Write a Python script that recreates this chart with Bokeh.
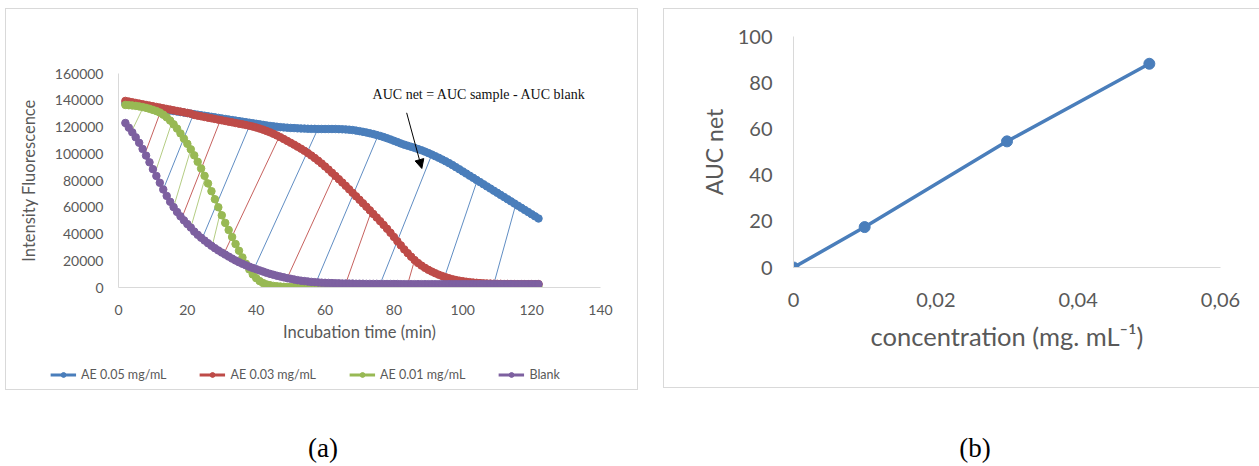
import numpy as np
from bokeh.plotting import figure
from bokeh.models import (Legend, LegendItem, Label, Arrow, NormalHead, Div,
                          Range1d, FixedTicker, CustomJSTickFormatter, NumeralTickFormatter)
from bokeh.embed import file_html
from bokeh.resources import INLINE

# ---------------- data: panel (a) ----------------
time_min = list(range(2, 123))  # reading every minute, 2..122 min

ae_005 = [137500, 137200, 136800, 136400, 136000, 135600, 135200, 134800, 134400, 134000,
          133600, 133200, 132800, 132400, 132000, 131600, 131200, 130800, 130400, 130000,
          129600, 129200, 128800, 128400, 128000, 127600, 127200, 126800, 126400, 126000,
          125600, 125200, 124800, 124400, 124000, 123600, 123200, 122800, 122400, 122000,
          121600, 121200, 120800, 120500, 120200, 119900, 119700, 119500, 119300, 119200,
          119000, 118900, 118800, 118700, 118600, 118600, 118500, 118500, 118500, 118500,
          118500, 118500, 118400, 118300, 118200, 118000, 117700, 117300, 116900, 116400,
          115900, 115300, 114700, 114000, 113300, 112500, 111600, 110700, 109700, 108700,
          107700, 106800, 106000, 105200, 104400, 103500, 102600, 101600, 100500, 99400,
          98200, 97000, 95700, 94400, 93000, 91500, 90000, 88400, 86800, 85200,
          83600, 82000, 80400, 78800, 77200, 75600, 74000, 72400, 70800, 69200,
          67600, 66000, 64400, 62800, 61200, 59600, 58000, 56400, 54800, 53200,
          51600]

ae_003 = [139500, 139000, 138500, 138000, 137500, 137000, 136500, 136000, 135500, 135000,
          134500, 134000, 133500, 133000, 132500, 132000, 131500, 131000, 130500, 130000,
          129000, 128500, 128000, 127500, 127000, 126500, 126000, 125500, 125000, 124500,
          124000, 123500, 123000, 122500, 122000, 121500, 120900, 120300, 119600, 118800,
          118000, 117000, 116000, 114900, 113700, 112400, 111000, 109600, 108200, 106800,
          105300, 103800, 102200, 100500, 98700, 96800, 94800, 92700, 90500, 88200,
          85800, 83400, 81000, 78500, 76000, 73400, 70800, 68200, 65600, 63000,
          60400, 57700, 55000, 52300, 49600, 46800, 43900, 40900, 37800, 34600,
          31500, 28500, 25700, 23000, 20500, 18300, 16400, 14700, 13200, 11900,
          10700, 9600, 8600, 7700, 6900, 6200, 5600, 5100, 4700, 4300,
          4000, 3700, 3500, 3300, 3100, 3000, 2900, 2800, 2700, 2700,
          2600, 2600, 2600, 2500, 2500, 2500, 2500, 2500, 2500, 2500,
          2500]

ae_001 = [136500, 136300, 136100, 135800, 135400, 134900, 134300, 133600, 132800, 131900,
          130800, 129200, 127200, 124800, 122000, 118800, 115200, 111300, 107400, 103300,
          98800, 94000, 89000, 83500, 77800, 72000, 66000, 60000, 54000, 48300,
          43000, 37800, 32500, 27500, 22500, 17800, 13500, 9800, 7000, 4800,
          3300, 2300, 1700, 1200, 900, 700, 500, 400, 300, 300,
          300, 200, 200, 200, 200, 200, 200, 200, 200, 200,
          200, 200, 200, 200, 200, 200, 200, 200, 200, 200,
          200, 200, 200, 200, 200, 200, 200, 200, 200, 200,
          200, 200, 200, 200, 200, 200, 200, 200, 200, 200,
          200, 200, 200, 200, 200, 200, 200, 200, 200, 200,
          200, 200, 200, 200, 200, 200, 200, 200, 200, 200,
          200, 200, 200, 200, 200, 200, 200, 200, 200, 200,
          200]

blank = [123000, 119500, 116000, 112300, 108200, 103600, 98600, 93600, 88500, 83400,
         78300, 73300, 68500, 64100, 60100, 56500, 53200, 50200, 47400, 44800,
         41800, 39400, 37200, 35100, 33100, 31200, 29400, 27700, 26100, 24600,
         23100, 21600, 20200, 18900, 17700, 16600, 15600, 14600, 13700, 12800,
         11900, 11000, 10200, 9500, 8800, 8200, 7600, 7000, 6500, 6000,
         5500, 5100, 4800, 4500, 4200, 4000, 3800, 3600, 3500, 3400,
         3300, 3200, 3100, 3000, 3000, 2900, 2900, 2800, 2800, 2800,
         2700, 2700, 2700, 2700, 2600, 2600, 2600, 2600, 2600, 2600,
         2500, 2500, 2500, 2500, 2500, 2500, 2500, 2500, 2500, 2500,
         2500, 2500, 2500, 2500, 2500, 2500, 2500, 2500, 2500, 2500,
         2500, 2500, 2500, 2500, 2500, 2500, 2500, 2500, 2500, 2500,
         2500, 2500, 2500, 2500, 2500, 2500, 2500, 2500, 2500, 2500,
         2500]

series_names = ["AE 0.05 mg/mL", "AE 0.03 mg/mL", "AE 0.01 mg/mL", "Blank"]
series_colors = ["#4A7EBB", "#BE4B48", "#98B954", "#7D60A0"]

# hatch lines (start time on blank curve -> end time on sample curve), min
hatch_005_from = [13, 24.3, 39.4, 57.4, 76, 94, 109]
hatch_005_to = [21.8, 38.4, 57.9, 75.4, 91, 104.2, 115.4]
hatch_003_from = [7.7, 18.4, 30.6, 49, 66, 84]
hatch_003_to = [12.6, 29.6, 46.7, 62.7, 73.4, 86]
hatch_001_from = [3.8, 10.6, 16, 21, 27.2]
hatch_001_to = [7.2, 15.5, 21, 25.2, 29.6]

x_ticks_a = [0, 20, 40, 60, 80, 100, 120, 140]
y_ticks_a = [0, 20000, 40000, 60000, 80000, 100000, 120000, 140000, 160000]

annot_text = "AUC net = AUC sample - AUC blank"
annot_pos = (73.8, 144000)
arrow_from = (83.7, 130600)
arrow_to = (88.1, 89000)

# ---------------- data: panel (b) ----------------
concentration = [0, 0.01, 0.03, 0.05]
auc_net = [0, 17.5, 54.6, 88.2]
x_ticks_b = [0, 0.02, 0.04, 0.06]
y_ticks_b = [0, 20, 40, 60, 80, 100]

FONT = "Lato"
GRAY = "#595959"
AXIS = "#d9d9d9"
BORDER = "#d9d9d9"


def style_axes(p, tick_size, title_size):
    for ax in (p.xaxis[0], p.yaxis[0]):
        ax.axis_line_color = AXIS
        ax.axis_line_width = 1
        ax.major_tick_line_color = None
        ax.minor_tick_line_color = None
        ax.major_label_text_font = FONT
        ax.major_label_text_font_size = tick_size
        ax.major_label_text_color = GRAY
        ax.axis_label_text_font = FONT
        ax.axis_label_text_font_size = title_size
        ax.axis_label_text_font_style = "normal"
        ax.axis_label_text_color = GRAY
    p.xgrid.visible = False
    p.ygrid.visible = False
    p.outline_line_color = None


def box_style(left, top, border=True):
    s = {"position": "absolute", "left": f"{left}px", "top": f"{top}px",
         "box-sizing": "content-box"}
    if border:
        s["border"] = f"1px solid {BORDER}"
    return s


# ---------------- panel (a) ----------------
pa = figure(width=631, height=380, x_range=Range1d(0, 140), y_range=Range1d(0, 160000),
            output_backend="svg", toolbar_location=None,
            min_border_left=112, min_border_right=39, min_border_top=64, min_border_bottom=104,
            styles=box_style(5, 8))
style_axes(pa, "14px", "16.5px")
pa.xaxis.ticker = FixedTicker(ticks=x_ticks_a)
pa.yaxis.ticker = FixedTicker(ticks=y_ticks_a)
pa.yaxis.formatter = NumeralTickFormatter(format="0")
pa.xaxis.axis_label = "Incubation time (min)"
pa.yaxis.axis_label = "Intensity Fluorescence"
pa.xaxis.major_label_standoff = 11
pa.yaxis.major_label_standoff = 9
pa.xaxis.axis_label_standoff = 4
pa.yaxis.axis_label_standoff = 13

t_arr = np.array(time_min, dtype=float)
blank_arr = np.array(blank, dtype=float)


def add_hatch(p, t_from, t_to, sample, color, alpha):
    x0 = np.array(t_from, dtype=float)
    x1 = np.array(t_to, dtype=float)
    y0 = np.interp(x0, t_arr, blank_arr)
    y1 = np.interp(x1, t_arr, np.array(sample, dtype=float))
    p.segment(x0=x0, y0=y0, x1=x1, y1=y1, line_color=color, line_width=1, line_alpha=alpha)


add_hatch(pa, hatch_001_from, hatch_001_to, ae_001, "#9BBB59", 0.75)
add_hatch(pa, hatch_003_from, hatch_003_to, ae_003, "#C0504D", 0.9)
add_hatch(pa, hatch_005_from, hatch_005_to, ae_005, "#4F81BD", 0.9)

all_series = [ae_005, ae_003, ae_001, blank]
for vals, col in zip(all_series, series_colors):
    pa.line(time_min, vals, line_color=col, line_width=2.5)
    pa.scatter(time_min, vals, size=7.5, fill_color=col, line_color=col, marker="circle")

pa.add_layout(Label(x=annot_pos[0], y=annot_pos[1], text=annot_text,
                    text_font="Liberation Serif", text_font_size="14px",
                    text_color="#111111", text_baseline="middle", text_align="left"))
pa.add_layout(Arrow(end=NormalHead(size=9, fill_color="black", line_color="black"),
                    x_start=arrow_from[0], y_start=arrow_from[1],
                    x_end=arrow_to[0], y_end=arrow_to[1],
                    line_color="black", line_width=1))

# ---------------- legend of panel (a) (own small canvas below the plot) ----------------
lf = figure(width=520, height=22, x_range=Range1d(-10, -9), y_range=Range1d(-10, -9),
            x_axis_type=None, y_axis_type=None, output_backend="svg", toolbar_location=None,
            min_border=0, min_border_left=0, min_border_right=0, min_border_top=0,
            min_border_bottom=0, styles=box_style(45, 363, border=False))
lf.outline_line_color = None
lf.xgrid.visible = False
lf.ygrid.visible = False
items = []
for name, vals, col in zip(series_names, all_series, series_colors):
    r1 = lf.line(time_min, vals, line_color=col, line_width=3)
    r2 = lf.scatter(time_min, vals, size=7.5, fill_color=col, line_color=col, marker="circle")
    items.append(LegendItem(label=name, renderers=[r1, r2]))
legend = Legend(items=items, orientation="horizontal", location="center",
                border_line_color=None, background_fill_alpha=0,
                label_text_font=FONT, label_text_font_size="12.5px", label_text_color=GRAY,
                glyph_width=26, glyph_height=12, spacing=33, padding=0, margin=0,
                label_standoff=5)
lf.add_layout(legend, "center")

# ---------------- panel (b) ----------------
pb = figure(width=595, height=378, x_range=Range1d(0, 0.06), y_range=Range1d(0, 100),
            output_backend="svg", toolbar_location=None,
            min_border_left=129, min_border_right=41, min_border_top=27, min_border_bottom=122,
            styles=box_style(663, 8))
style_axes(pb, "20px", "25.5px")
pb.yaxis.axis_label_text_font_size = "23px"
pb.xaxis.ticker = FixedTicker(ticks=x_ticks_b)
pb.yaxis.ticker = FixedTicker(ticks=y_ticks_b)
pb.xaxis.formatter = CustomJSTickFormatter(
    code="return tick === 0 ? '0' : tick.toFixed(2).replace('.', ',');")
pb.xaxis.axis_label = "concentration (mg. mL\u207b\u00b9)"
pb.yaxis.axis_label = "AUC net"
pb.xaxis.major_label_standoff = 19
pb.yaxis.major_label_standoff = 15
pb.xaxis.axis_label_standoff = 11
pb.yaxis.axis_label_standoff = 7

pb.line(concentration, auc_net, line_color="#4A7EBB", line_width=3.5)
pb.scatter(concentration, auc_net, size=11, fill_color="#4A7EBB", line_color="#4A7EBB")


def caption(txt, cx, cy):
    return Div(text=f'<span style="font-family: \'Liberation Serif\', serif; font-size: 27px; color: #000;">{txt}</span>',
               width=60, height=34,
               styles={"position": "absolute", "left": f"{cx - 30}px", "top": f"{cy - 21}px",
                       "text-align": "center", "line-height": "34px"})


cap_a = caption("(a)", 318, 447)
cap_b = caption("(b)", 970, 447)

open("out.html", "w").write(file_html([pa, pb, lf, cap_a, cap_b], INLINE))
